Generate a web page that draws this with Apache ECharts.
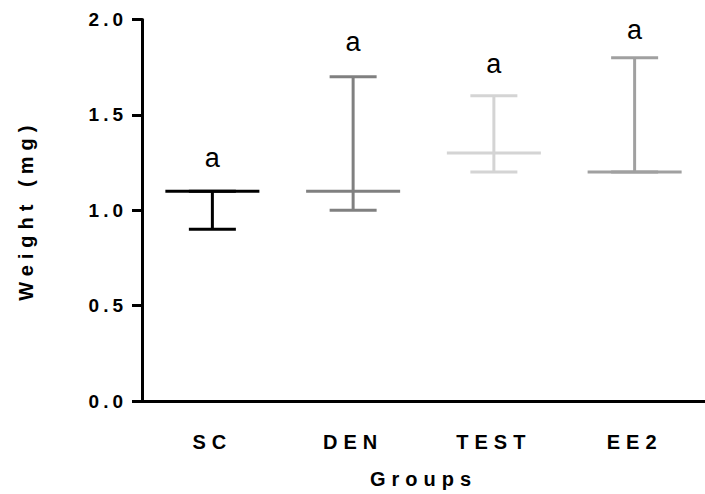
<!DOCTYPE html>
<html>
<head>
<meta charset="utf-8">
<script src="https://cdn.jsdelivr.net/npm/echarts@6/dist/echarts.min.js"></script>
<style>
  html, body { margin: 0; padding: 0; background: #fff; overflow: hidden; }
  #chart { width: 705px; height: 494px; overflow: hidden; }
  #chart svg { display: block; }
  /* GraphPad-style spaced bold labels */
  #chart text[style*="bold"] { letter-spacing: 6px; }
  #chart text[style*="700"] { letter-spacing: 4px; }
</style>
</head>
<body>
<div id="chart"></div>
<script>
const groups = ['SC', 'DEN', 'TEST', 'EE2'];
const minVals = [0.9, 1.0, 1.2, 1.2];
const medianVals = [1.1, 1.1, 1.3, 1.2];
const maxVals = [1.1, 1.7, 1.6, 1.8];
const groupColors = ['#000000', '#808080', '#d4d4d4', '#a0a0a0'];
const sigLetters = ['a', 'a', 'a', 'a'];
const letterY = [1.272, 1.88, 1.769, 1.945]; // where the letters sit (y units)

const FONT = '"Liberation Sans", Arial, sans-serif';

const chart = echarts.init(document.getElementById('chart'), null, { renderer: 'svg' });

const option = {
  backgroundColor: '#fff',
  animation: false,
  grid: { left: 142, right: -11, top: 19.5, bottom: 90 },
  xAxis: {
    type: 'category',
    data: groups,
    name: 'Groups',
    nameLocation: 'middle',
    nameGap: 68,
    nameTextStyle: { fontFamily: FONT, fontWeight: 'bold', fontSize: 20, color: '#000' },
    axisLine: { lineStyle: { color: '#000', width: 3 } },
    axisTick: { alignWithLabel: true, length: 8, lineStyle: { color: '#000', width: 3 } },
    axisLabel: { fontFamily: FONT, fontWeight: 'bold', fontSize: 20, color: '#000', margin: 31 },
    splitLine: { show: false }
  },
  yAxis: {
    type: 'value',
    min: 0,
    max: 2,
    interval: 0.5,
    name: 'Weight (mg)',
    nameLocation: 'middle',
    nameGap: 106,
    nameTextStyle: { fontFamily: FONT, fontWeight: 'bold', fontSize: 20, color: '#000' },
    axisLine: { show: true, lineStyle: { color: '#000', width: 3 } },
    axisTick: { show: true, length: 10, lineStyle: { color: '#000', width: 3 } },
    axisLabel: {
      fontFamily: FONT, fontWeight: 700, fontSize: 19, color: '#000', margin: 15,
      formatter: v => v.toFixed(1)
    },
    splitLine: { show: false }
  },
  series: [{
    type: 'custom',
    coordinateSystem: 'cartesian2d',
    encode: { x: 0, y: [1, 2, 3] },
    data: groups.map((g, i) => [i, minVals[i], medianVals[i], maxVals[i], letterY[i]]),
    renderItem: function (params, api) {
      const i = params.dataIndex;
      const x = api.value(0);
      const lo = api.coord([x, api.value(1)]);
      const md = api.coord([x, api.value(2)]);
      const hi = api.coord([x, api.value(3)]);
      const lt = api.coord([x, api.value(4)]);
      const band = api.size([1, 0])[0];
      const medHalf = band * 0.334;
      const capHalf = band * 0.167;
      const st = { stroke: groupColors[i], lineWidth: 3, fill: null };
      return {
        type: 'group',
        children: [
          { type: 'line', shape: { x1: lo[0], y1: lo[1], x2: hi[0], y2: hi[1] }, style: st },
          { type: 'line', shape: { x1: lo[0] - capHalf, y1: lo[1], x2: lo[0] + capHalf, y2: lo[1] }, style: st },
          { type: 'line', shape: { x1: hi[0] - capHalf, y1: hi[1], x2: hi[0] + capHalf, y2: hi[1] }, style: st },
          { type: 'line', shape: { x1: md[0] - medHalf, y1: md[1], x2: md[0] + medHalf, y2: md[1] }, style: st },
          {
            type: 'text', x: lt[0], y: lt[1],
            style: {
              text: sigLetters[i], fill: '#000',
              font: '27px ' + FONT, align: 'center', verticalAlign: 'middle'
            }
          }
        ]
      };
    }
  }]
};

chart.setOption(option);
</script>
</body>
</html>
